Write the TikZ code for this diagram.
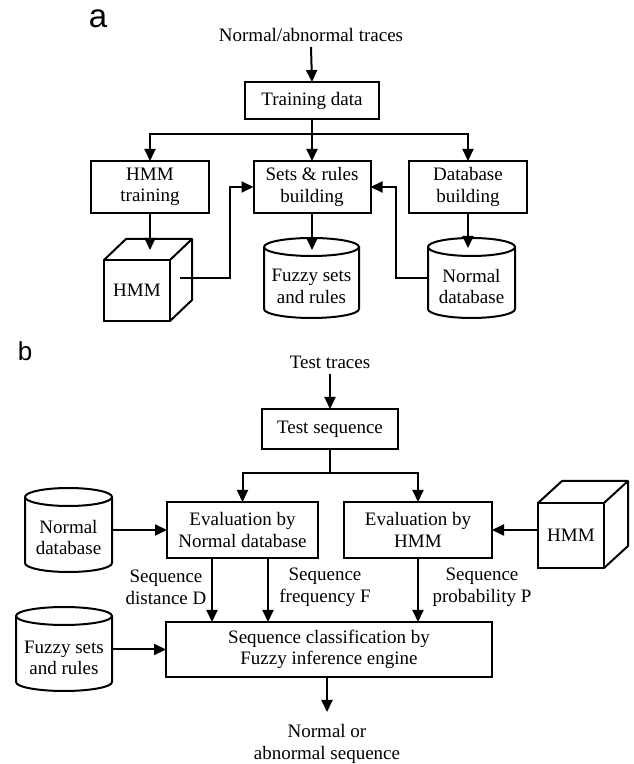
\documentclass[tikz,border=0pt]{standalone}
\usepackage{fontspec}
\setmainfont{Liberation Serif}
\newfontfamily\panelfont{Liberation Sans}
\usetikzlibrary{arrows.meta,calc}

\tikzset{
  box/.style={draw, line width=2pt, align=center, inner sep=0pt, outer sep=0pt},
  drum/.style={inner sep=0pt, outer sep=0pt},
  cubeface/.style={draw, line width=2pt, inner sep=0pt, outer sep=0pt, minimum width=66pt},
  txt/.style={align=center, inner sep=0pt},
  panel/.style={inner sep=0pt, font=\panelfont\fontsize{26}{26}\selectfont},
  wire/.style={line width=2pt},
  link/.style={line width=2pt, -{Triangle[length=12pt,width=11pt]}},
}

% outline of a database drum round a named node: name, half width
\newcommand\drumlines[2]{%
  \draw[wire] ($(#1.north)+(0,-9)$) ellipse ({#2} and 9);
  \draw[wire] ($(#1.north west)+(0,-9)$) -- ($(#1.south west)+(0,9)$)
    arc[start angle=180, end angle=360, x radius=#2pt, y radius=9pt]
    -- ($(#1.north east)+(0,-9)$);
}

\begin{document}
\begin{tikzpicture}[x=1pt, y=1pt, font=\fontsize{19}{21.5}\selectfont]
  \useasboundingbox (0,0) rectangle (633,764);

  % (a) training
  \node[panel, font=\panelfont\fontsize{33}{33}\selectfont] (pa) at (98,745) {a};
  \node[txt] (traces) at (311,729) {Normal/abnormal traces};
  \node[box, minimum width=134pt, minimum height=37pt] (train) at (312,663.5) {Training data};
  \node[box, minimum width=118pt, minimum height=52pt] (hmmtrain) at (150,577) {HMM\\training};
  \node[box, minimum width=117pt, minimum height=52pt] (sets) at (312,577) {Sets \& rules\\building};
  \node[box, minimum width=118pt, minimum height=52pt] (dbbuild) at (468,577) {Database\\building};

  \node[cubeface, minimum height=61pt] (hmmA) at (137,473.5) {HMM};
  \draw[wire, line join=round] (hmmA.north west) -- ++(22,21) -- ++(66,0) -- ++(0,-61) -- (hmmA.south east);
  \draw[wire] (hmmA.north east) -- ++(22,21);

  \node[drum, minimum width=95pt, minimum height=80pt] (fuzzyA) at (311.5,486) {};
  \drumlines{fuzzyA}{47.5}
  \node[txt] (fuzzyAtxt) at (311.5,477.5) {Fuzzy sets\\and rules};
  \node[drum, minimum width=87pt, minimum height=80pt] (normA) at (471.5,486) {};
  \drumlines{normA}{43.5}
  \node[txt] (normAtxt) at (471.5,477.5) {Normal\\database};

  \draw[link] ([yshift=-5pt]traces.south) -- (train.north);
  \coordinate (splitA) at ($(train.south)+(0,-15)$);
  \draw[link] (train.south) -- (sets.north);
  \draw[link] (splitA) -| (hmmtrain.north);
  \draw[link] (splitA) -| (dbbuild.north);
  \draw[link] (hmmtrain.south) -- ++(0,-37);
  \draw[link] (sets.south) -- ++(0,-37);
  \draw[link] (dbbuild.south) -- ++(0,-35);
  \coordinate (hmmAout) at ($(hmmA.east)+(10,12.5)$);
  \draw[link] (hmmAout) -- ++(50,0) |- (sets.west);
  \draw[link] (normA.west) -- ++(-32,0) |- (sets.east);

  % (b) testing
  \node[panel] (pb) at (25,413) {b};
  \node[txt] (tests) at (330,402) {Test traces};
  \node[box, minimum width=136pt, minimum height=40pt] (testseq) at (330,335) {Test sequence};
  \node[box, minimum width=151pt, minimum height=56pt] (evalN) at (242.5,234) {Evaluation by\\Normal database};
  \node[box, minimum width=148pt, minimum height=56pt] (evalH) at (418,234) {Evaluation by\\HMM};
  \node[box, minimum width=326pt, minimum height=55pt] (classbox) at (329,114.5) {Sequence classification by\\Fuzzy inference engine};

  \node[drum, minimum width=87pt, minimum height=84pt] (normB) at (68.5,234) {};
  \drumlines{normB}{43.5}
  \node[txt] (normBtxt) at (68.5,226.5) {Normal\\database};
  \node[drum, minimum width=96pt, minimum height=84pt] (fuzzyB) at (64,115) {};
  \drumlines{fuzzyB}{48}
  \node[txt] (fuzzyBtxt) at (64,106) {Fuzzy sets\\and rules};

  \node[cubeface, minimum height=65pt] (hmmB) at (571,228.5) {HMM};
  \draw[wire, line join=round] (hmmB.north west) -- ++(24,22) -- ++(66,0) -- ++(0,-65) -- (hmmB.south east);
  \draw[wire] (hmmB.north east) -- ++(24,22);

  \node[txt] (lblD) at (166,176.5) {Sequence\\distance D};
  \node[txt] (lblF) at (325,176.5) {Sequence\\frequency F};
  \node[txt] (lblP) at (482,176.5) {Sequence\\probability P};
  \node[txt] (result) at (327,20) {Normal or\\abnormal sequence};

  \draw[link] ([yshift=-5pt]tests.south) -- (testseq.north);
  \coordinate (splitB) at ($(testseq.south)+(0,-24)$);
  \draw[wire] (testseq.south) -- (splitB);
  \draw[link] (splitB) -| (evalN.north);
  \draw[link] (splitB) -| (evalH.north);
  \draw[link] (normB.east) -- (evalN.west);
  \draw[link] (hmmB.west |- evalH.east) -- (evalH.east);
  \draw[link] ($(evalN.south)+(-30.5,0)$) -- ++(0,-64);
  \draw[link] ($(evalN.south)+(25.5,0)$) -- ++(0,-64);
  \draw[link] (evalH.south) -- (evalH.south |- classbox.north);
  \draw[link] (fuzzyB.east |- classbox.west) -- (classbox.west);
  \draw[link] ($(classbox.south)+(-2,0)$) -- ++(0,-35);
\end{tikzpicture}
\end{document}
